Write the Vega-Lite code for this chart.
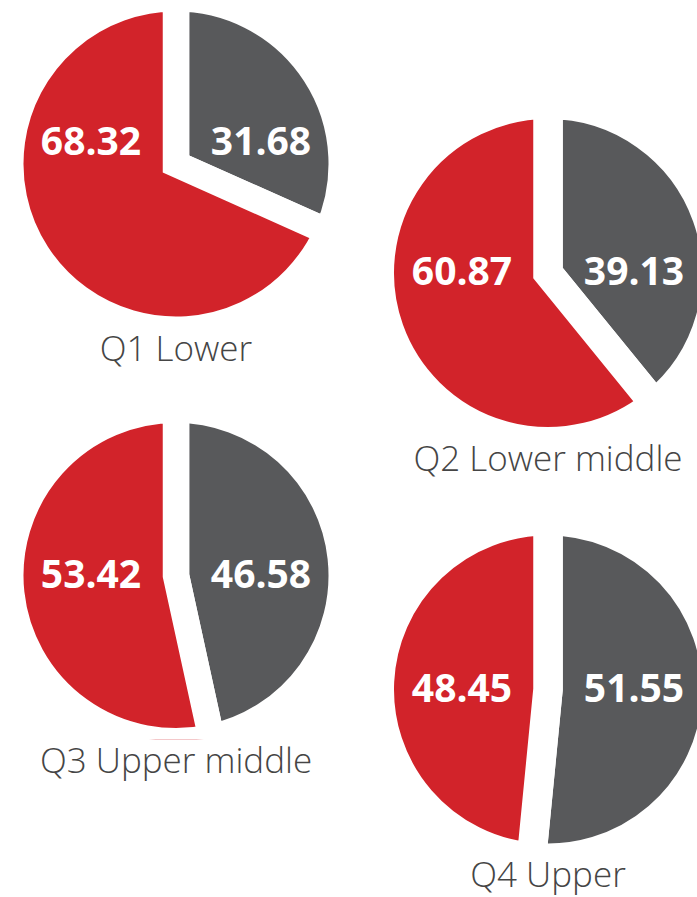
{
  "$schema": "https://vega.github.io/schema/vega-lite/v6.json",
  "background": "#ffffff",
  "padding": 0,
  "data": {
    "values": [
      {"group": "Q1 Lower", "segment": "A", "value": 31.68},
      {"group": "Q1 Lower", "segment": "B", "value": 68.32},
      {"group": "Q2 Lower middle", "segment": "A", "value": 39.13},
      {"group": "Q2 Lower middle", "segment": "B", "value": 60.87},
      {"group": "Q3 Upper middle", "segment": "A", "value": 46.58},
      {"group": "Q3 Upper middle", "segment": "B", "value": 53.42},
      {"group": "Q4 Upper", "segment": "A", "value": 51.55},
      {"group": "Q4 Upper", "segment": "B", "value": 48.45}
    ]
  },
  "hconcat": [
    {
      "width": 352,
      "height": 739.5,
      "transform": [{"filter": {"field": "group", "oneOf": ["Q1 Lower", "Q3 Upper middle"]}}],
      "encoding": {
        "y": {"field": "group", "type": "nominal", "axis": null, "scale": {"type": "point", "padding": 0.3985}}
      },
      "layer": [
        {
          "transform": [{"stack": "value", "groupby": ["group"], "sort": [{"field": "segment", "order": "ascending"}], "as": ["v0", "v1"]}],
          "mark": {"type": "arc", "outerRadius": 165.75, "stroke": "#ffffff", "strokeWidth": 26.5, "strokeJoin": "miter", "clip": true},
          "encoding": {
            "theta": {"field": "v0", "type": "quantitative", "stack": null, "scale": {"domain": [0, 100]}},
            "theta2": {"field": "v1"},
            "color": {"field": "segment", "type": "nominal", "legend": null, "scale": {"domain": ["A", "B"], "range": ["#58595b", "#d2232a"]}}
          }
        },
        {
          "transform": [{"filter": "datum.group === 'Q1 Lower'"}],
          "mark": {"type": "text", "radius": 85, "dy": -21, "font": "Open Sans", "fontSize": 39, "fontWeight": "bold", "color": "#ffffff"},
          "encoding": {
            "theta": {"field": "segment", "type": "nominal", "scale": {"type": "point", "padding": 0.5}},
            "text": {"field": "value", "type": "quantitative", "format": ".2f"}
          }
        },
        {
          "transform": [{"filter": "datum.group !== 'Q1 Lower'"}],
          "mark": {"type": "text", "radius": 85, "font": "Open Sans", "fontSize": 39, "fontWeight": "bold", "color": "#ffffff"},
          "encoding": {
            "theta": {"field": "segment", "type": "nominal", "scale": {"type": "point", "padding": 0.5}},
            "text": {"field": "value", "type": "quantitative", "format": ".2f"}
          }
        },
        {
          "transform": [{"aggregate": [{"op": "count", "as": "n"}], "groupby": ["group"]}],
          "mark": {"type": "text", "dy": 197.5, "baseline": "alphabetic", "font": "Open Sans", "fontSize": 35, "fontWeight": 300, "color": "#454545"},
          "encoding": {"text": {"field": "group", "type": "nominal"}}
        }
      ],
      "resolve": {"scale": {"theta": "independent"}}
    },
    {
      "width": 310,
      "height": 897,
      "transform": [{"filter": {"field": "group", "oneOf": ["Q2 Lower middle", "Q4 Upper"]}}],
      "encoding": {
        "y": {"field": "group", "type": "nominal", "axis": null, "scale": {"type": "point", "padding": 0.5768, "align": 0.5682}}
      },
      "layer": [
        {
          "transform": [{"stack": "value", "groupby": ["group"], "sort": [{"field": "segment", "order": "ascending"}], "as": ["v0", "v1"]}],
          "mark": {"type": "arc", "outerRadius": 168.75, "stroke": "#ffffff", "strokeWidth": 29.5, "strokeJoin": "miter", "clip": true},
          "encoding": {
            "theta": {"field": "v0", "type": "quantitative", "stack": null, "scale": {"domain": [0, 100]}},
            "theta2": {"field": "v1"},
            "color": {"field": "segment", "type": "nominal", "legend": null, "scale": {"domain": ["A", "B"], "range": ["#58595b", "#d2232a"]}}
          }
        },
        {
          "mark": {"type": "text", "radius": 86, "font": "Open Sans", "fontSize": 39, "fontWeight": "bold", "color": "#ffffff"},
          "encoding": {
            "theta": {"field": "segment", "type": "nominal", "scale": {"type": "point", "padding": 0.5}},
            "text": {"field": "value", "type": "quantitative", "format": ".2f"}
          }
        },
        {
          "transform": [{"aggregate": [{"op": "count", "as": "n"}], "groupby": ["group"]}],
          "mark": {"type": "text", "dy": 197.5, "baseline": "alphabetic", "font": "Open Sans", "fontSize": 35, "fontWeight": 300, "color": "#454545"},
          "encoding": {"text": {"field": "group", "type": "nominal"}}
        }
      ],
      "resolve": {"scale": {"theta": "independent"}}
    }
  ],
  "spacing": 41,
  "bounds": "flush",
  "config": {"view": {"stroke": null}}
}
